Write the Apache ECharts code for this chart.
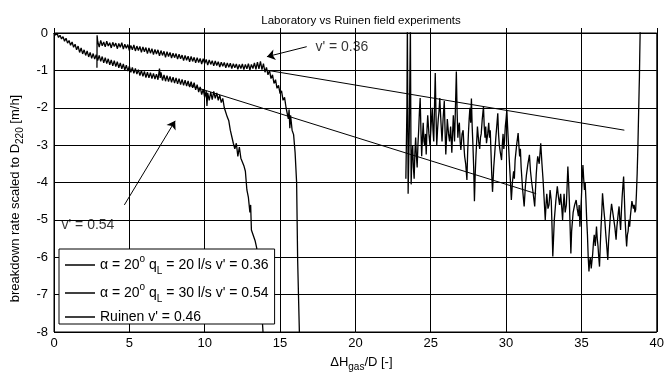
<!DOCTYPE html>
<html>
<head>
<meta charset="utf-8">
<script src="https://cdn.jsdelivr.net/npm/echarts@6/dist/echarts.min.js"></script>
<style>html,body{margin:0;padding:0;background:#fff}#c{width:667px;height:378px}</style>
</head>
<body>
<div id="c"></div>
<script>
const titleText = 'Laboratory vs Ruinen field experiments';
const xTicks = {min: 0, max: 40, interval: 5};
const yTicks = {min: -8, max: 0, interval: 1};
const seriesNames = ["α = 20° qL = 20 l/s v' = 0.36", "α = 20° qL = 30 l/s v' = 0.54", "Ruinen v' = 0.46"];

// alpha = 20, qL = 20 l/s, v' = 0.36
const lab20 = [[2.85,-0.93],[2.86,-0.06],[2.9,-0.22],[3.0,-0.38],[3.1,-0.2],[3.2,-0.34],[3.3,-0.24],[3.4,-0.37],[3.5,-0.22],[3.6,-0.35],[3.7,-0.26],[3.8,-0.4],[3.9,-0.25],[4.0,-0.36],[4.1,-0.27],[4.2,-0.42],[4.3,-0.28],[4.4,-0.38],[4.5,-0.26],[4.6,-0.43],[4.7,-0.3],[4.8,-0.41],[4.9,-0.31],[5.0,-0.47],[5.1,-0.33],[5.2,-0.45],[5.3,-0.32],[5.4,-0.48],[5.5,-0.35],[5.6,-0.47],[5.7,-0.36],[5.8,-0.52],[5.9,-0.37],[6.0,-0.5],[6.1,-0.39],[6.2,-0.55],[6.3,-0.4],[6.4,-0.54],[6.5,-0.42],[6.6,-0.58],[6.7,-0.44],[6.8,-0.56],[6.9,-0.45],[7.0,-0.61],[7.1,-0.47],[7.2,-0.6],[7.3,-0.49],[7.4,-0.65],[7.5,-0.5],[7.6,-0.63],[7.7,-0.52],[7.8,-0.67],[7.9,-0.54],[8.0,-0.66],[8.1,-0.55],[8.2,-0.7],[8.3,-0.57],[8.4,-0.69],[8.5,-0.59],[8.6,-0.74],[8.7,-0.6],[8.8,-0.73],[8.9,-0.62],[9.0,-0.77],[9.1,-0.63],[9.2,-0.76],[9.3,-0.65],[9.4,-0.8],[9.5,-0.66],[9.6,-0.79],[9.7,-0.68],[9.8,-0.83],[9.9,-0.69],[10.0,-0.82],[10.1,-0.71],[10.2,-0.86],[10.3,-0.72],[10.4,-0.84],[10.5,-0.74],[10.6,-0.88],[10.7,-0.75],[10.8,-0.87],[10.9,-0.77],[11.0,-0.91],[11.1,-0.78],[11.2,-0.89],[11.3,-0.79],[11.4,-0.93],[11.5,-0.8],[11.6,-0.92],[11.7,-0.81],[11.8,-0.95],[11.9,-0.82],[12.0,-0.93],[12.1,-0.83],[12.2,-0.97],[12.3,-0.84],[12.4,-0.95],[12.5,-0.83],[12.6,-0.98],[12.7,-0.84],[12.8,-0.96],[12.9,-0.82],[13.0,-0.99],[13.1,-0.84],[13.2,-0.95],[13.3,-0.8],[13.4,-0.97],[13.5,-0.78],[13.6,-0.96],[13.7,-0.76],[13.8,-0.98],[13.9,-0.82],[14.0,-1.05],[14.1,-0.92],[14.2,-1.12],[14.3,-1.0],[14.4,-1.22],[14.5,-1.12],[14.6,-1.35],[14.7,-1.25],[14.8,-1.48],[14.9,-1.4],[15.0,-1.62],[15.1,-1.55],[15.2,-1.8],[15.3,-1.72],[15.4,-2.0],[15.5,-1.95],[15.55,-2.3],[15.6,-2.05],[15.65,-2.55],[15.7,-2.2],[15.8,-2.6],[15.9,-2.72],[16.0,-3.2],[16.1,-4.0],[16.17,-6.1],[16.28,-7.95],[16.3,-8.2]];

// alpha = 20, qL = 30 l/s, v' = 0.54
const lab30 = [[0,0],[0.1,-0.06],[0.2,0.0],[0.3,-0.12],[0.4,-0.06],[0.5,-0.16],[0.6,-0.1],[0.7,-0.22],[0.8,-0.14],[0.9,-0.27],[1.0,-0.2],[1.1,-0.33],[1.2,-0.24],[1.3,-0.38],[1.4,-0.3],[1.5,-0.45],[1.6,-0.35],[1.7,-0.52],[1.8,-0.4],[1.9,-0.56],[2.0,-0.45],[2.1,-0.6],[2.2,-0.48],[2.3,-0.64],[2.4,-0.52],[2.5,-0.68],[2.6,-0.55],[2.7,-0.7],[2.8,-0.58],[2.9,-0.74],[3.0,-0.6],[3.1,-0.76],[3.2,-0.63],[3.3,-0.8],[3.4,-0.66],[3.5,-0.82],[3.6,-0.69],[3.7,-0.85],[3.8,-0.72],[3.9,-0.88],[4.0,-0.74],[4.1,-0.9],[4.2,-0.77],[4.3,-0.93],[4.4,-0.8],[4.5,-0.96],[4.6,-0.83],[4.7,-0.99],[4.8,-0.86],[4.9,-1.02],[5.0,-0.89],[5.1,-1.05],[5.2,-0.92],[5.3,-1.08],[5.4,-0.95],[5.5,-1.1],[5.6,-0.98],[5.7,-1.14],[5.8,-1.0],[5.9,-1.16],[6.0,-1.03],[6.1,-1.19],[6.2,-1.05],[6.3,-1.2],[6.4,-1.06],[6.5,-1.22],[6.6,-1.08],[6.7,-1.23],[6.8,-1.1],[6.9,-1.25],[7.0,-0.95],[7.05,-1.2],[7.1,-1.05],[7.2,-1.27],[7.3,-1.12],[7.4,-1.29],[7.5,-1.14],[7.6,-1.3],[7.7,-1.16],[7.8,-1.32],[7.9,-1.18],[8.0,-1.34],[8.1,-1.2],[8.2,-1.36],[8.3,-1.22],[8.4,-1.38],[8.5,-1.24],[8.6,-1.4],[8.7,-1.26],[8.8,-1.42],[8.9,-1.28],[9.0,-1.45],[9.1,-1.3],[9.2,-1.47],[9.3,-1.33],[9.4,-1.52],[9.5,-1.38],[9.6,-1.58],[9.7,-1.44],[9.8,-1.65],[9.9,-1.5],[10.0,-1.72],[10.1,-1.55],[10.15,-1.95],[10.2,-1.6],[10.3,-1.8],[10.4,-1.58],[10.5,-1.78],[10.6,-1.56],[10.7,-1.75],[10.8,-1.6],[10.9,-1.8],[11.0,-1.66],[11.1,-1.86],[11.2,-1.75],[11.3,-2.0],[11.4,-1.95],[11.5,-2.25],[11.6,-2.35],[11.7,-2.6],[11.8,-2.55],[11.9,-2.95],[12.0,-3.1],[12.1,-2.95],[12.2,-3.3],[12.3,-3.05],[12.4,-3.35],[12.5,-3.45],[12.6,-3.55],[12.7,-3.7],[12.8,-4.2],[12.9,-4.4],[13.0,-4.8],[13.05,-4.6],[13.1,-5.27],[13.2,-5.3],[13.34,-5.55],[13.45,-5.75],[13.6,-6.3],[13.75,-7.2],[13.9,-8.2]];

// Ruinen field experiment
const ruinen = [[23.35,-3.9],[23.42,-2.0],[23.45,0.3],[23.48,-2.2],[23.5,-4.3],[23.55,-3.2],[23.58,-2.5],[23.62,-1.0],[23.65,0.2],[23.68,-2.5],[23.7,-4.05],[23.75,-3.3],[23.8,-3.0],[23.85,-3.6],[23.9,-3.9],[23.95,-3.2],[24.0,-2.8],[24.05,-3.3],[24.1,-3.6],[24.15,-3.0],[24.2,-2.6],[24.25,-2.1],[24.3,-1.74],[24.35,-2.6],[24.4,-3.3],[24.45,-2.8],[24.5,-2.4],[24.55,-2.9],[24.6,-3.0],[24.65,-2.7],[24.7,-3.25],[24.75,-2.6],[24.8,-2.2],[24.88,-2.7],[24.95,-3.0],[25.02,-2.5],[25.1,-2.0],[25.15,-2.6],[25.2,-2.9],[25.25,-2.0],[25.3,-1.07],[25.35,-2.2],[25.4,-3.0],[25.45,-2.6],[25.5,-2.3],[25.55,-2.1],[25.6,-1.74],[25.68,-2.4],[25.75,-2.9],[25.82,-2.3],[25.9,-1.82],[25.95,-2.6],[26.0,-3.25],[26.05,-2.8],[26.1,-2.3],[26.18,-2.7],[26.25,-2.9],[26.32,-2.5],[26.4,-3.2],[26.45,-2.7],[26.5,-2.2],[26.58,-2.9],[26.64,-2.0],[26.7,-1.03],[26.75,-2.1],[26.8,-2.8],[26.85,-2.5],[26.9,-2.4],[26.95,-2.9],[27.0,-3.13],[27.08,-2.7],[27.15,-2.6],[27.2,-3.0],[27.25,-3.3],[27.32,-3.5],[27.4,-3.93],[27.45,-3.2],[27.5,-2.7],[27.55,-2.3],[27.6,-2.0],[27.65,-2.4],[27.7,-1.75],[27.75,-2.5],[27.8,-3.0],[27.85,-3.6],[27.9,-4.5],[27.95,-3.8],[28.0,-3.3],[28.05,-2.9],[28.1,-2.5],[28.18,-2.9],[28.25,-3.1],[28.3,-2.8],[28.35,-2.7],[28.42,-2.3],[28.5,-1.97],[28.55,-2.5],[28.6,-2.8],[28.65,-2.5],[28.7,-2.95],[28.78,-2.7],[28.85,-2.4],[28.9,-2.8],[28.95,-2.6],[29.0,-3.2],[29.05,-3.8],[29.1,-4.25],[29.18,-3.6],[29.25,-3.2],[29.32,-2.8],[29.4,-2.4],[29.45,-2.15],[29.5,-2.7],[29.55,-3.0],[29.62,-3.2],[29.7,-3.4],[29.75,-3.0],[29.8,-2.7],[29.85,-3.1],[29.9,-2.86],[29.95,-2.5],[30.0,-2.3],[30.05,-2.06],[30.1,-2.5],[30.15,-2.9],[30.2,-3.3],[30.28,-3.9],[30.35,-4.47],[30.42,-4.0],[30.5,-3.7],[30.55,-3.9],[30.6,-3.4],[30.7,-3.0],[30.8,-2.68],[30.85,-3.0],[30.9,-3.3],[30.95,-3.1],[31.0,-3.6],[31.05,-3.9],[31.1,-4.2],[31.2,-4.64],[31.28,-4.1],[31.35,-3.8],[31.45,-3.5],[31.55,-3.26],[31.62,-3.7],[31.7,-4.0],[31.8,-4.3],[31.9,-4.64],[31.95,-4.2],[32.0,-3.8],[32.05,-3.5],[32.1,-3.3],[32.2,-3.5],[32.3,-2.95],[32.38,-3.5],[32.45,-3.9],[32.52,-4.4],[32.6,-5.0],[32.65,-4.6],[32.7,-4.3],[32.78,-4.7],[32.85,-4.6],[32.92,-4.2],[33.0,-4.5],[33.05,-5.2],[33.1,-5.98],[33.15,-5.5],[33.2,-5.0],[33.3,-4.5],[33.4,-4.1],[33.48,-4.4],[33.55,-4.6],[33.62,-4.3],[33.7,-4.7],[33.75,-5.0],[33.8,-4.6],[33.85,-4.3],[33.92,-4.8],[34.0,-4.6],[34.05,-4.1],[34.1,-3.57],[34.15,-4.0],[34.2,-4.5],[34.25,-5.2],[34.3,-5.9],[34.35,-5.3],[34.45,-4.8],[34.55,-4.6],[34.65,-4.47],[34.72,-4.7],[34.8,-4.9],[34.85,-4.6],[34.9,-5.18],[34.95,-4.8],[35.0,-4.4],[35.05,-3.9],[35.1,-3.53],[35.15,-3.9],[35.2,-4.2],[35.25,-4.0],[35.3,-4.47],[35.35,-5.0],[35.4,-5.4],[35.45,-6.0],[35.5,-6.38],[35.55,-6.1],[35.6,-6.0],[35.65,-6.3],[35.75,-5.9],[35.8,-5.6],[35.85,-5.4],[35.92,-5.7],[36.0,-5.18],[36.05,-5.5],[36.1,-5.7],[36.15,-6.0],[36.2,-6.25],[36.25,-5.7],[36.3,-5.2],[36.35,-4.8],[36.4,-4.29],[36.48,-4.7],[36.55,-5.0],[36.62,-5.4],[36.7,-5.8],[36.75,-6.07],[36.8,-5.6],[36.85,-5.3],[36.92,-4.9],[37.0,-4.57],[37.08,-4.8],[37.15,-5.0],[37.22,-5.2],[37.3,-5.53],[37.35,-5.2],[37.4,-5.0],[37.45,-4.8],[37.5,-4.64],[37.55,-5.0],[37.6,-5.27],[37.65,-4.8],[37.7,-4.4],[37.75,-4.1],[37.8,-3.84],[37.85,-4.4],[37.9,-5.0],[37.95,-5.4],[38.0,-5.71],[38.05,-5.4],[38.1,-5.3],[38.15,-5.0],[38.2,-5.18],[38.25,-4.9],[38.3,-4.7],[38.35,-4.5],[38.4,-4.47],[38.45,-4.7],[38.5,-4.6],[38.55,-4.8],[38.6,-4.73],[38.65,-4.3],[38.7,-3.75],[38.75,-3.0],[38.8,-2.06],[38.83,-1.5],[38.85,-1.17],[38.87,-0.6],[38.9,0.1]];

// fitted trend lines
const trend36 = [[14.2,-1.0],[37.85,-2.6]];
const trend54 = [[8.9,-1.39],[32.0,-4.3]];

// annotations: arrow tail, arrow head, text anchor
const arrow36 = [[16.77,-0.366],[14.13,-0.634]];
const arrow54 = [[4.67,-4.6],[8.04,-2.35]];
const note36 = [17.35,-0.38,"v' = 0.36"];
const note54 = [0.5,-5.15,"v' = 0.54"];

const FONT = 'Liberation Sans, Arial, sans-serif';
const richLegend = {
  n: {fontSize: 14, fontFamily: FONT, color: '#000', lineHeight: 22},
  sup: {fontSize: 10, fontFamily: FONT, color: '#000', verticalAlign: 'top', lineHeight: 10},
  sub: {fontSize: 10, fontFamily: FONT, color: '#000', verticalAlign: 'bottom', lineHeight: 10}
};
const richAxis = {
  n: {fontSize: 13, fontFamily: FONT, color: '#000', lineHeight: 20},
  sub: {fontSize: 10, fontFamily: FONT, color: '#000', verticalAlign: 'bottom', lineHeight: 10}
};
function legendRich(name) {
  const m = name.match(/^α = 20° qL = (\d+) l\/s (.*)$/);
  if (m) return '{n|α = 20}{sup|o}{n| q}{sub|L}{n| = ' + m[1] + ' l/s ' + m[2] + '}';
  return '{n|' + name + '}';
}

const chart = echarts.init(document.getElementById('c'), null, {renderer: 'canvas'});
const lineStyle = {color: '#000', width: 1.3};
chart.setOption({
  animation: false,
  backgroundColor: '#fff',
  title: {text: titleText, left: 356, textAlign: 'center', top: 10,
    textStyle: {fontSize: 11.5, fontWeight: 'normal', fontFamily: FONT, color: '#000'}},
  grid: {left: 54, right: 9, top: 33, bottom: 46, show: true, borderColor: '#000', borderWidth: 1},
  legend: {
    data: seriesNames, orient: 'vertical', left: 59, top: 249,
    backgroundColor: '#fff', borderColor: '#000', borderWidth: 1, borderRadius: 0,
    padding: [5, 6, 0, 6], itemGap: 6, itemWidth: 30, itemHeight: 1.5, icon: 'rect',
    formatter: legendRich, textStyle: {rich: richLegend, fontSize: 14, color: '#000'}
  },
  xAxis: {
    type: 'value', min: xTicks.min, max: xTicks.max, interval: xTicks.interval,
    axisLine: {show: true, lineStyle: {color: '#000'}},
    axisTick: {show: true, inside: true, length: 5, lineStyle: {color: '#000'}},
    axisLabel: {fontSize: 13, fontFamily: FONT, color: '#000', margin: 5},
    splitLine: {show: true, lineStyle: {color: '#000', width: 1}},
    name: '{n|ΔH}{sub|gas}{n|/D [-]}', nameLocation: 'middle', nameGap: 20,
    nameTextStyle: {rich: richAxis, padding: [0, 0, 0, 12]}
  },
  yAxis: {
    type: 'value', min: yTicks.min, max: yTicks.max, interval: yTicks.interval,
    axisLine: {show: true, onZero: false, lineStyle: {color: '#000'}},
    axisTick: {show: true, inside: true, length: 5, lineStyle: {color: '#000'}},
    axisLabel: {fontSize: 13, fontFamily: FONT, color: '#000', margin: 6},
    splitLine: {show: true, lineStyle: {color: '#000', width: 1}},
    name: '{n|breakdown rate scaled to D}{sub|220}{n| [m/h]}', nameLocation: 'middle', nameGap: 28,
    nameTextStyle: {rich: richAxis, padding: [0, 32, 0, 0]}
  },
  series: [
    {name: seriesNames[0], type: 'line', data: lab20, showSymbol: false, symbol: 'none', lineStyle: lineStyle, itemStyle: {color: '#000'}},
    {name: seriesNames[1], type: 'line', data: lab30, showSymbol: false, symbol: 'none', lineStyle: lineStyle, itemStyle: {color: '#000'}},
    {name: seriesNames[2], type: 'line', data: ruinen, showSymbol: false, symbol: 'none', lineStyle: lineStyle, itemStyle: {color: '#000'}},
    {name: 'trend 0.36', type: 'line', data: trend36, showSymbol: false, symbol: 'none', lineStyle: {color: '#000', width: 1},
      markLine: {silent: true, symbol: ['none', 'arrow'], symbolSize: 8, label: {show: false},
        lineStyle: {color: '#000', width: 1, type: 'solid'},
        data: [[{coord: arrow36[0]}, {coord: arrow36[1]}], [{coord: arrow54[0]}, {coord: arrow54[1]}]]}},
    {name: 'trend 0.54', type: 'line', data: trend54, showSymbol: false, symbol: 'none', lineStyle: {color: '#000', width: 1}},
    {name: 'notes', type: 'scatter', symbolSize: 0, silent: true,
      data: [note36, note54].map(d => ({value: [d[0], d[1]], label: {formatter: d[2]}})),
      label: {show: true, position: 'right', distance: 0, fontSize: 14, fontFamily: FONT, color: '#000'}}
  ]
});
</script>
</body>
</html>
